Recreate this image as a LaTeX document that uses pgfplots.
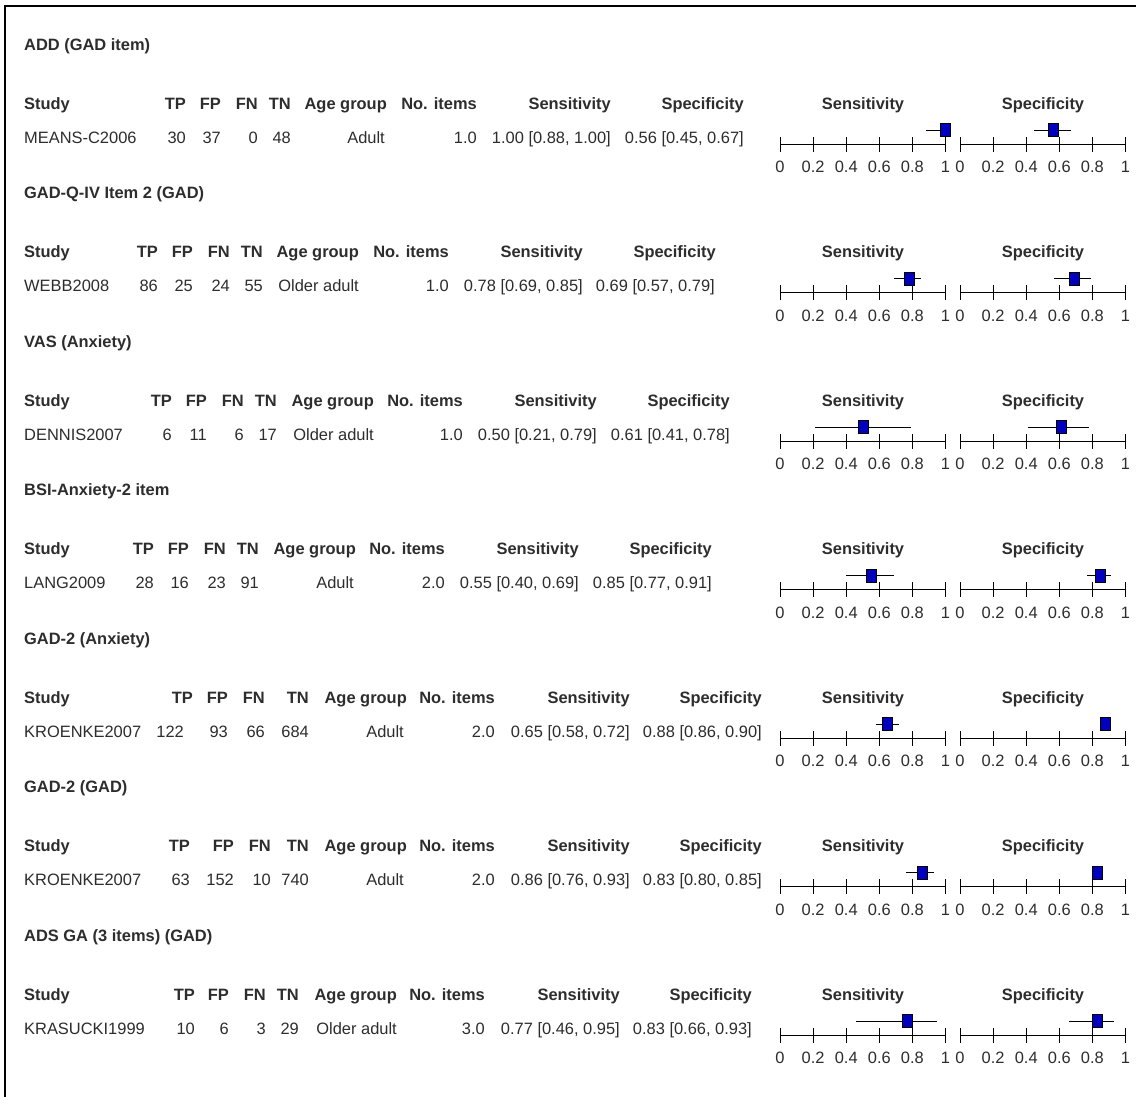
\documentclass[border=0pt]{standalone}
\usepackage{pgfplots}
\pgfplotsset{compat=1.18}
\usepackage{fontspec}
\setmainfont{Liberation Sans}

\definecolor{txt}{RGB}{45,45,45}
\definecolor{sq}{RGB}{0,0,190}

\newcommand\fs{\fontsize{16.5}{19}\selectfont}
% text helpers (x, baseline y)
\newcommand\TL[3]{\node[anchor=base west,inner sep=0pt,text=txt,font=\fs] at (#1,#2) {#3};}
\newcommand\TR[3]{\node[anchor=base east,inner sep=0pt,text=txt,font=\fs] at (#1,#2) {#3};}
\newcommand\TC[3]{\node[anchor=base,inner sep=0pt,text=txt,font=\fs] at (#1,#2) {#3};}

\pgfplotsset{forest/.style={
  scale only axis, width=165.5bp, height=14bp,
  xmin=0, xmax=1, ymin=-1, ymax=0,
  axis x line=bottom, axis line style={-, line width=1bp, black},
  hide y axis, clip=false,
  xtick={0,0.2,0.4,0.6,0.8,1},
  xtick align=center, major tick length=15bp,
  every tick/.style={black, line width=1bp},
  xticklabel style={font=\fs, text=txt, anchor=base, yshift=-21bp},
  /pgf/number format/assume math mode=true,
  anchor=south west,
}}
% one forest panel: x of zero, y of axis line, estimate, lower, upper
\newcommand\panel[5]{%
  \begin{axis}[forest, at={(#1bp,-#2bp)}]
    \addplot[black, line width=0.9bp] coordinates {(#4,0) (#5,0)};
    \addplot[only marks, mark=square*, mark size=5bp,
      mark options={fill=sq, draw=none, yscale=1.27}] coordinates {(#3,0)};
  \end{axis}}

\begin{document}
\begin{tikzpicture}[x=1bp,y=-1bp]
\path[use as bounding box, fill=white] (0,0) rectangle (1136,1097);
\draw[line width=2bp] (4.5,1097) -- (4.5,5.5) -- (1136,5.5);

% ---------- block 1
\TL{24}{50}{\textbf{ADD (GAD item)}}
\TL{24}{109}{\textbf{Study}}
\TR{186}{109}{\textbf{TP}}\TR{221}{109}{\textbf{FP}}\TR{258}{109}{\textbf{FN}}\TR{291}{109}{\textbf{TN}}
\TR{387}{109}{\textbf{Age group}}\TR{477}{109}{\textbf{No. items}}
\TR{611}{109}{\textbf{Sensitivity}}\TR{744}{109}{\textbf{Specificity}}
\TC{863}{109}{\textbf{Sensitivity}}\TC{1043}{109}{\textbf{Specificity}}
\TL{24}{143}{MEANS-C2006}
\TR{186}{143}{30}\TR{221}{143}{37}\TR{258}{143}{0}\TR{291}{143}{48}
\TR{385}{143}{Adult}\TR{477}{143}{1.0}
\TR{611}{143}{1.00 [0.88, 1.00]}\TR{744}{143}{0.56 [0.45, 0.67]}

% ---------- block 2
\TL{24}{198.5}{\textbf{GAD-Q-IV Item 2 (GAD)}}
\TL{24}{257.5}{\textbf{Study}}
\TR{158}{257.5}{\textbf{TP}}\TR{193}{257.5}{\textbf{FP}}\TR{230}{257.5}{\textbf{FN}}\TR{263}{257.5}{\textbf{TN}}
\TR{359}{257.5}{\textbf{Age group}}\TR{449}{257.5}{\textbf{No. items}}
\TR{583}{257.5}{\textbf{Sensitivity}}\TR{716}{257.5}{\textbf{Specificity}}
\TC{863}{257.5}{\textbf{Sensitivity}}\TC{1043}{257.5}{\textbf{Specificity}}
\TL{24}{291.5}{WEBB2008}
\TR{158}{291.5}{86}\TR{193}{291.5}{25}\TR{230}{291.5}{24}\TR{263}{291.5}{55}
\TR{359}{291.5}{Older adult}\TR{449}{291.5}{1.0}
\TR{583}{291.5}{0.78 [0.69, 0.85]}\TR{715}{291.5}{0.69 [0.57, 0.79]}

% ---------- block 3
\TL{24}{347}{\textbf{VAS (Anxiety)}}
\TL{24}{406}{\textbf{Study}}
\TR{172}{406}{\textbf{TP}}\TR{207}{406}{\textbf{FP}}\TR{244}{406}{\textbf{FN}}\TR{277}{406}{\textbf{TN}}
\TR{374}{406}{\textbf{Age group}}\TR{463}{406}{\textbf{No. items}}
\TR{597}{406}{\textbf{Sensitivity}}\TR{730}{406}{\textbf{Specificity}}
\TC{863}{406}{\textbf{Sensitivity}}\TC{1043}{406}{\textbf{Specificity}}
\TL{24}{440}{DENNIS2007}
\TR{172}{440}{6}\TR{207}{440}{11}\TR{244}{440}{6}\TR{277}{440}{17}
\TR{374}{440}{Older adult}\TR{463}{440}{1.0}
\TR{597}{440}{0.50 [0.21, 0.79]}\TR{730}{440}{0.61 [0.41, 0.78]}

% ---------- block 4
\TL{24}{495.5}{\textbf{BSI-Anxiety-2 item}}
\TL{24}{554.5}{\textbf{Study}}
\TR{154}{554.5}{\textbf{TP}}\TR{189}{554.5}{\textbf{FP}}\TR{226}{554.5}{\textbf{FN}}\TR{259}{554.5}{\textbf{TN}}
\TR{356}{554.5}{\textbf{Age group}}\TR{445}{554.5}{\textbf{No. items}}
\TR{579}{554.5}{\textbf{Sensitivity}}\TR{712}{554.5}{\textbf{Specificity}}
\TC{863}{554.5}{\textbf{Sensitivity}}\TC{1043}{554.5}{\textbf{Specificity}}
\TL{24}{588.5}{LANG2009}
\TR{154}{588.5}{28}\TR{189}{588.5}{16}\TR{226}{588.5}{23}\TR{259}{588.5}{91}
\TR{354}{588.5}{Adult}\TR{445}{588.5}{2.0}
\TR{579}{588.5}{0.55 [0.40, 0.69]}\TR{712}{588.5}{0.85 [0.77, 0.91]}

% ---------- block 5
\TL{24}{644}{\textbf{GAD-2 (Anxiety)}}
\TL{24}{703}{\textbf{Study}}
\TR{193}{703}{\textbf{TP}}\TR{228}{703}{\textbf{FP}}\TR{265}{703}{\textbf{FN}}\TR{309}{703}{\textbf{TN}}
\TR{407}{703}{\textbf{Age group}}\TR{495}{703}{\textbf{No. items}}
\TR{630}{703}{\textbf{Sensitivity}}\TR{762}{703}{\textbf{Specificity}}
\TC{863}{703}{\textbf{Sensitivity}}\TC{1043}{703}{\textbf{Specificity}}
\TL{24}{737}{KROENKE2007}
\TR{184}{737}{122}\TR{228}{737}{93}\TR{265}{737}{66}\TR{309}{737}{684}
\TR{404}{737}{Adult}\TR{495}{737}{2.0}
\TR{630}{737}{0.65 [0.58, 0.72]}\TR{762}{737}{0.88 [0.86, 0.90]}

% ---------- block 6
\TL{24}{792.5}{\textbf{GAD-2 (GAD)}}
\TL{24}{851.5}{\textbf{Study}}
\TR{190}{851.5}{\textbf{TP}}\TR{234}{851.5}{\textbf{FP}}\TR{271}{851.5}{\textbf{FN}}\TR{309}{851.5}{\textbf{TN}}
\TR{407}{851.5}{\textbf{Age group}}\TR{495}{851.5}{\textbf{No. items}}
\TR{630}{851.5}{\textbf{Sensitivity}}\TR{762}{851.5}{\textbf{Specificity}}
\TC{863}{851.5}{\textbf{Sensitivity}}\TC{1043}{851.5}{\textbf{Specificity}}
\TL{24}{885.5}{KROENKE2007}
\TR{190}{885.5}{63}\TR{234}{885.5}{152}\TR{271}{885.5}{10}\TR{309}{885.5}{740}
\TR{404}{885.5}{Adult}\TR{495}{885.5}{2.0}
\TR{630}{885.5}{0.86 [0.76, 0.93]}\TR{762}{885.5}{0.83 [0.80, 0.85]}

% ---------- block 7
\TL{24}{941}{\textbf{ADS GA (3 items) (GAD)}}
\TL{24}{1000}{\textbf{Study}}
\TR{195}{1000}{\textbf{TP}}\TR{229}{1000}{\textbf{FP}}\TR{266}{1000}{\textbf{FN}}\TR{299}{1000}{\textbf{TN}}
\TR{397}{1000}{\textbf{Age group}}\TR{485}{1000}{\textbf{No. items}}
\TR{620}{1000}{\textbf{Sensitivity}}\TR{752}{1000}{\textbf{Specificity}}
\TC{863}{1000}{\textbf{Sensitivity}}\TC{1043}{1000}{\textbf{Specificity}}
\TL{24}{1034}{KRASUCKI1999}
\TR{195}{1034}{10}\TR{229}{1034}{6}\TR{266}{1034}{3}\TR{299}{1034}{29}
\TR{397}{1034}{Older adult}\TR{485}{1034}{3.0}
\TR{620}{1034}{0.77 [0.46, 0.95]}\TR{752}{1034}{0.83 [0.66, 0.93]}

% ---------- forest panels: estimate, lower, upper
\panel{780}{144}{1.00}{0.88}{1.00}
\panel{960}{144}{0.56}{0.45}{0.67}
\panel{780}{292.5}{0.78}{0.69}{0.85}
\panel{960}{292.5}{0.69}{0.57}{0.79}
\panel{780}{441}{0.50}{0.21}{0.79}
\panel{960}{441}{0.61}{0.41}{0.78}
\panel{780}{589.5}{0.55}{0.40}{0.69}
\panel{960}{589.5}{0.85}{0.77}{0.91}
\panel{780}{738}{0.65}{0.58}{0.72}
\panel{960}{738}{0.88}{0.86}{0.90}
\panel{780}{886.5}{0.86}{0.76}{0.93}
\panel{960}{886.5}{0.83}{0.80}{0.85}
\panel{780}{1035}{0.77}{0.46}{0.95}
\panel{960}{1035}{0.83}{0.66}{0.93}
\end{tikzpicture}
\end{document}
